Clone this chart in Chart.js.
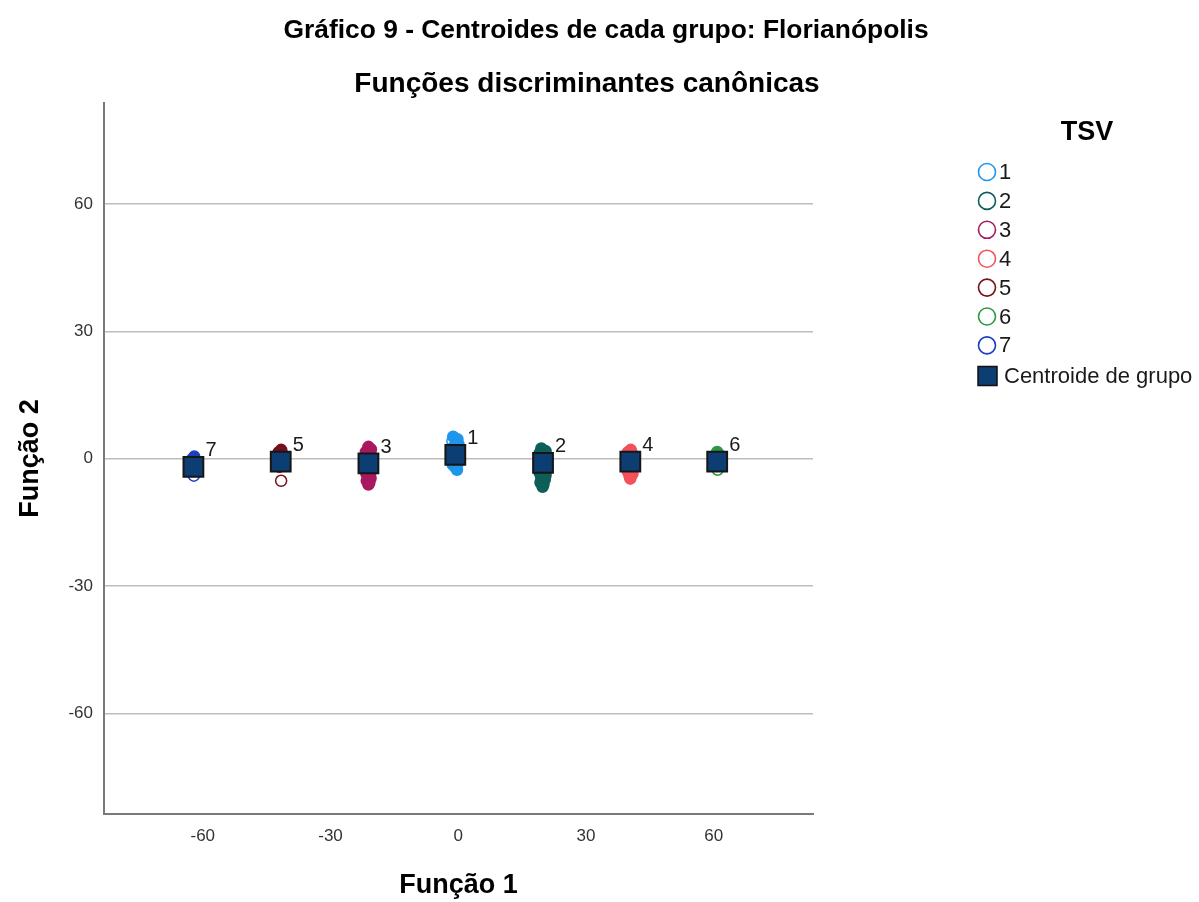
<!DOCTYPE html>
<html>
<head>
<meta charset="utf-8">
<title>Centroides de cada grupo: Florianópolis</title>
<script src="https://cdn.jsdelivr.net/npm/chart.js@4"></script>
<style>
	body { margin: 0; background: #ffffff; }
	#wrap { position: relative; width: 1199px; height: 902px; }
</style>
</head>
<body>
<div id="wrap">
	<canvas id="chart" width="1199" height="902"></canvas>
</div>
<script>
// groups (TSV 1..7) and their scores on the two discriminant functions
var groupNames = ['1', '2', '3', '4', '5', '6', '7'];
var groupColours = ['#1e96ee', '#0d5f58', '#a8195f', '#f4515a', '#76101a', '#2a9a45', '#1c3fc0'];

var tsv1X = [-1.2, -0.2, -1.4, 0.0, -0.9, -1.5, -0.1, -1.1, 0.1, -1.4, -0.5, 0.0, -1.3, -0.7, -0.3];
var tsv1Y = [5.2, 4.6, 4.1, 3.5, 3.0, 2.4, 1.9, 1.3, 0.8, 0.2, -0.3, -0.9, -1.4, -2.0, -2.6];
var tsv2X = [19.5, 20.5, 19.1, 20.0, 20.6, 19.2, 20.2, 19.1, 20.6, 19.8, 19.1, 20.5, 19.5, 20.3, 19.3, 20.0, 19.8];
var tsv2Y = [2.4, 1.8, 1.3, 0.7, 0.1, -0.5, -1.0, -1.6, -2.2, -2.8, -3.3, -3.9, -4.5, -5.0, -5.6, -6.1, -6.6];
var tsv3X = [-21.1, -20.5, -21.7, -20.9, -20.4, -21.7, -21.2, -20.5, -21.8, -21.0, -20.4, -21.6, -21.1, -20.6, -21.5, -20.9, -21.1];
var tsv3Y = [2.8, 2.2, 1.6, 1.1, 0.5, -0.1, -0.7, -1.2, -1.8, -2.4, -2.9, -3.5, -4.1, -4.6, -5.2, -5.7, -6.1];
var tsv4X = [40.5, 39.8, 41.0, 40.2, 39.7, 41.1, 40.1, 40.9, 40.4, 39.8, 40.9, 40.2, 40.4];
var tsv4Y = [2.1, 1.5, 1.0, 0.4, -0.2, -0.7, -1.3, -1.9, -2.4, -3.0, -3.6, -4.1, -4.7];
var tsv5X = [-41.6, -42.2, -41.1, -42.0, -41.2, -42.3, -41.4, -42.0, -41.6];
var tsv5Y = [2.1, 1.5, 0.9, 0.4, -0.2, -0.8, -1.3, -1.9, -5.2];
var tsv6X = [60.8, 61.3, 60.4, 61.2, 60.5, 60.9];
var tsv6Y = [1.6, 0.9, 0.2, -0.6, -1.3, -2.6];
var tsv7X = [-62.0, -62.5, -61.7, -62.4, -61.9, -62.4, -62.1];
var tsv7Y = [0.5, -0.1, -0.8, -1.5, -2.2, -2.9, -4.0];

// group centroids, same order as groupNames
var centroidX = [-0.7, 19.9, -21.1, 40.4, -41.7, 60.8, -62.2];
var centroidY = [0.9, -1.0, -1.1, -0.7, -0.7, -0.7, -1.9];

var axisTicks = [-60, -30, 0, 30, 60];

var fontFamily = '"Liberation Sans", Arial, sans-serif';
var centroidColour = '#0c3d73';

function toPoints(xs, ys)
{
	var pts = [];
	for (var i = 0; i < xs.length; i++)
	{
		pts.push({x: xs[i], y: ys[i]});
	}
	return pts;
}

// a point sitting alone stays an open ring; points piled on each other read as a solid blob
function pointFill(colour, xs, ys)
{
	return function(c)
	{
		var i = c.dataIndex;
		if (i === undefined) return 'rgba(0,0,0,0)';
		for (var j = 0; j < ys.length; j++)
		{
			if (j != i && Math.abs(ys[j] - ys[i]) < 1.0 && Math.abs(xs[j] - xs[i]) < 1.2)
			{
				return colour;
			}
		}
		return 'rgba(0,0,0,0)';
	};
}

var groupX = [tsv1X, tsv2X, tsv3X, tsv4X, tsv5X, tsv6X, tsv7X];
var groupY = [tsv1Y, tsv2Y, tsv3Y, tsv4Y, tsv5Y, tsv6Y, tsv7Y];

var datasets = [];
// centroids first so they sit on top of the group points
datasets.push({
	label: 'Centroide de grupo',
	data: toPoints(centroidX, centroidY),
	pointStyle: 'rect',
	pointRadius: 14,
	pointBorderWidth: 2,
	borderColor: '#161616',
	backgroundColor: centroidColour
});
for (var g = 0; g < groupNames.length; g++)
{
	datasets.push({
		label: groupNames[g],
		data: toPoints(groupX[g], groupY[g]),
		pointStyle: 'circle',
		pointRadius: 5.5,
		pointBorderWidth: 1.5,
		borderColor: groupColours[g],
		backgroundColor: pointFill(groupColours[g], groupX[g], groupY[g])
	});
}

// titles, centroid numbers and the TSV legend are painted after the chart
var decorPlugin = {
	id: 'decor',
	afterDraw: function(chart)
	{
		var ctx = chart.ctx;
		var xs = chart.scales.x, ys = chart.scales.y;
		ctx.save();
		ctx.fillStyle = '#000';
		ctx.textAlign = 'center';
		ctx.textBaseline = 'middle';
		ctx.font = 'bold 26.4px ' + fontFamily;
		ctx.fillText('Gráfico 9 - Centroides de cada grupo: Florianópolis', 606, 31);
		ctx.font = 'bold 28px ' + fontFamily;
		ctx.fillText('Funções discriminantes canônicas', 587, 84);

		// number next to each centroid
		ctx.fillStyle = '#1a1a1a';
		ctx.font = '20px ' + fontFamily;
		ctx.textAlign = 'left';
		for (var i = 0; i < centroidX.length; i++)
		{
			var px = xs.getPixelForValue(centroidX[i]);
			var py = ys.getPixelForValue(centroidY[i]);
			ctx.fillText(groupNames[i], px + 12, py - 16);
		}

		// legend
		ctx.fillStyle = '#000';
		ctx.textAlign = 'center';
		ctx.font = 'bold 27px ' + fontFamily;
		ctx.fillText('TSV', 1087, 133);
		ctx.textAlign = 'left';
		ctx.font = '22px ' + fontFamily;
		for (var k = 0; k < groupNames.length; k++)
		{
			var ly = 172 + k * 28.9;
			ctx.beginPath();
			ctx.arc(987, ly, 8.5, 0, Math.PI * 2);
			ctx.lineWidth = 1.6;
			ctx.strokeStyle = groupColours[k];
			ctx.stroke();
			ctx.fillStyle = '#1a1a1a';
			ctx.fillText(groupNames[k], 999, ly + 1);
		}
		ctx.fillStyle = centroidColour;
		ctx.fillRect(978, 366.5, 19, 19);
		ctx.lineWidth = 1.5;
		ctx.strokeStyle = '#111';
		ctx.strokeRect(978, 366.5, 19, 19);
		ctx.fillStyle = '#1a1a1a';
		ctx.fillText('Centroide de grupo', 1004, 377);
		ctx.restore();
	}
};

var ctx = document.getElementById('chart').getContext('2d');
var chart = new Chart(ctx, {
	type: 'scatter',
	data: { datasets: datasets },
	plugins: [decorPlugin],
	options: {
		responsive: false,
		animation: false,
		devicePixelRatio: 1,
		layout: { padding: { left: 0, right: 386, top: 103, bottom: 0 } },
		plugins: {
			legend: { display: false },
			tooltip: { enabled: false },
			title: { display: false }
		},
		scales: {
			x: {
				type: 'linear',
				min: -83.2,
				max: 83.3,
				afterBuildTicks: function(scale) { scale.ticks = axisTicks.map(function(v) { return {value: v}; }); },
				afterFit: function(scale) { scale.height = 88; },
				grid: { display: false, drawTicks: false },
				border: { display: true, color: '#7a7a7a', width: 2 },
				ticks: { padding: 12, color: '#333', font: { family: fontFamily, size: 17 } },
				title: {
					display: true,
					text: 'Função 1',
					color: '#000',
					font: { family: fontFamily, size: 27, weight: 'bold', lineHeight: 1.2 },
					padding: { top: 0, bottom: 0 }
				}
			},
			y: {
				type: 'linear',
				min: -83.7,
				max: 83.8,
				afterBuildTicks: function(scale) { scale.ticks = axisTicks.map(function(v) { return {value: v}; }); },
				afterFit: function(scale) { scale.width = 104; },
				grid: { display: true, color: '#bdbdbd', lineWidth: 1.5, drawTicks: false },
				border: { display: true, color: '#7a7a7a', width: 2 },
				ticks: { padding: 11, color: '#333', font: { family: fontFamily, size: 17 } },
				title: {
					display: true,
					text: 'Função 2',
					color: '#000',
					font: { family: fontFamily, size: 27, weight: 'bold', lineHeight: 1.2 },
					padding: { top: 14, bottom: 0 }
				}
			}
		}
	}
});
</script>
</body>
</html>
